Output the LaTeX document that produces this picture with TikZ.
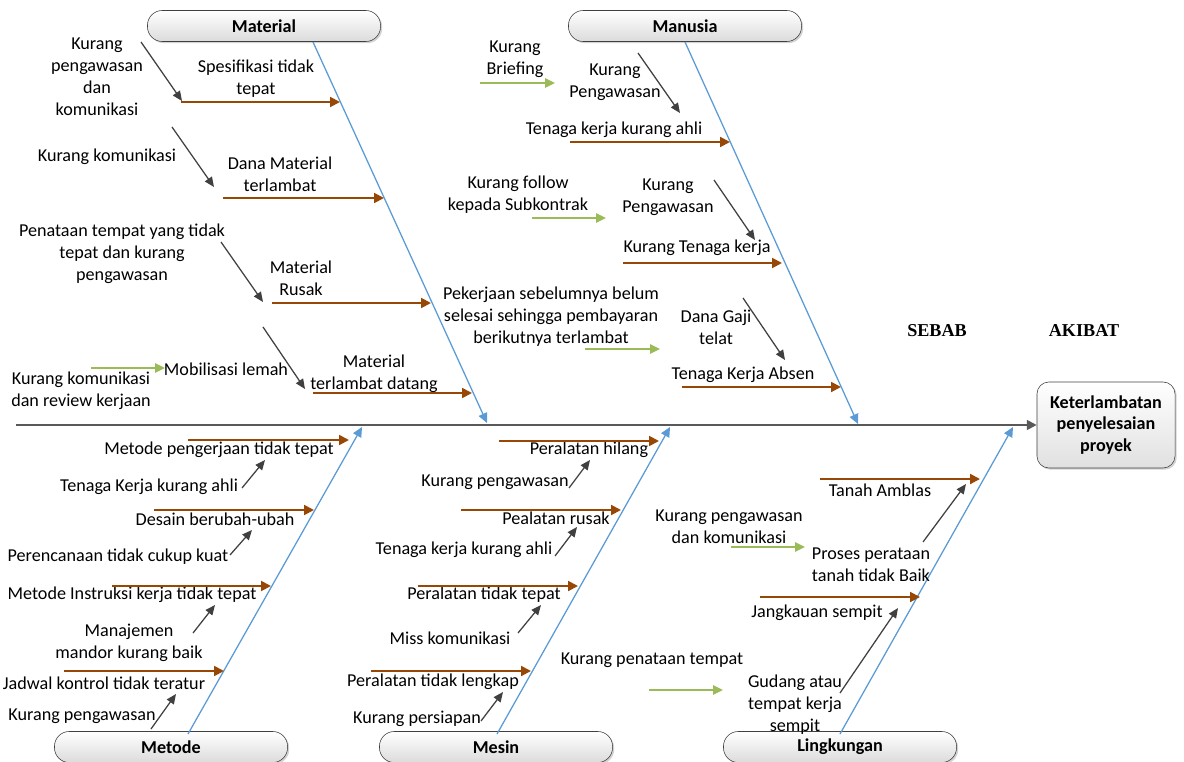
\documentclass[tikz,border=0pt]{standalone}
\usepackage{fontspec}
\setmainfont{Carlito}
\newfontfamily\headfont{Liberation Serif}
\usetikzlibrary{positioning, arrows.meta, shadows}
\definecolor{bonecol}{RGB}{91,155,213}
\definecolor{causecol}{RGB}{151,71,6}
\definecolor{subcol}{RGB}{155,187,89}
\definecolor{linkcol}{RGB}{64,64,64}
\definecolor{spinecol}{RGB}{89,89,89}

\begin{document}
\begin{tikzpicture}[
	x=0.025cm, y=-0.025cm,
	lbl/.style={align=center, inner sep=0pt, font=\fontsize{12.9}{15.6}\selectfont},
	catbox/.style={rectangle, draw=black!75, rounded corners=10.5pt, top color=white, bottom color=black!14, drop shadow={opacity=0.35, shadow xshift=1.2pt, shadow yshift=-1.2pt}, minimum width=5.825cm, minimum height=0.775cm, inner sep=0pt, font=\bfseries\fontsize{12.9}{15.6}\selectfont},
	effectbox/.style={rectangle, draw=black!75, rounded corners=8.5pt, top color=white, bottom color=black!12, drop shadow={opacity=0.35, shadow xshift=1.2pt, shadow yshift=-1.2pt}, minimum width=3.45cm, minimum height=2.15cm, align=center, font=\bfseries\fontsize{12.9}{15.6}\selectfont},
	sidelabel/.style={inner sep=0pt, font=\headfont\bfseries\fontsize{12.9}{15}\selectfont},
	spine/.style={draw=spinecol, line width=1.4pt, -{Triangle[length=7pt,width=7pt]}},
	bone/.style={draw=bonecol, line width=0.9pt, -{Triangle[length=7pt,width=6.5pt]}},
	cause/.style={draw=causecol, line width=1.4pt, -{Triangle[length=7pt,width=7pt]}},
	subcause/.style={draw=subcol, line width=1.2pt, -{Triangle[length=7pt,width=6.5pt]}},
	link/.style={draw=linkcol, line width=0.9pt, -{Triangle[length=7pt,width=6pt]}}
	]
	
	\useasboundingbox (0,0) rectangle (1184,762);
	
	% head and spine
	\node [effectbox] (effect) at (1106,425) {Keterlambatan\\penyelesaian\\proyek};
	\coordinate (tail) at (16,425);
	\draw [spine] (tail) -- (effect.west);
	\node [sidelabel] (sebab) at (937,331) {SEBAB};
	\node [sidelabel] (akibat) at (1084,331) {AKIBAT};
	
	% categories
	\node [catbox] (material) at (264,26) {Material};
	\node [catbox] (manusia) at (685,26) {Manusia};
	\node [catbox] (metode) at (171,747) {Metode};
	\node [catbox] (mesin) at (496,747) {Mesin};
	\node [catbox] (lingkungan) at (840,747) {Lingkungan};
	
	\coordinate (mat_top) at (313,42);   \coordinate (mat_end) at (487,423);
	\coordinate (man_top) at (685,42);   \coordinate (man_end) at (858,424);
	\coordinate (met_bot) at (188,734);  \coordinate (met_end) at (362,427);
	\coordinate (mes_bot) at (497,734);  \coordinate (mes_end) at (670,427);
	\coordinate (lin_bot) at (840,734);  \coordinate (lin_end) at (1013,427);
	\draw [bone] (mat_top) -- (mat_end);
	\draw [bone] (man_top) -- (man_end);
	\draw [bone] (met_bot) -- (met_end);
	\draw [bone] (mes_bot) -- (mes_end);
	\draw [bone] (lin_bot) -- (lin_end);
	
	% Material
	\node [lbl] (mat_a) at (256,79) {Spesifikasi tidak\\tepat};
	\node [lbl] (mat_a1) at (97,77) {Kurang\\pengawasan\\dan\\komunikasi};
	\node [lbl] (mat_b) at (280,174) {Dana Material\\terlambat};
	\node [lbl] (mat_b1) at (107,157) {Kurang komunikasi};
	\node [lbl] (mat_c) at (301,278) {Material\\Rusak};
	\node [lbl] (mat_c1) at (122,254) {Penataan tempat yang tidak\\tepat dan kurang\\pengawasan};
	\node [lbl] (mat_d) at (374,374) {Material\\terlambat datang};
	\node [lbl] (mat_d1) at (226,369) {Mobilisasi lemah};
	\node [lbl] (mat_d2) at (81,391) {Kurang komunikasi\\dan review kerjaan};
	
	\coordinate (ma1) at (181,102); \coordinate (ma2) at (340,102);
	\coordinate (ma3) at (141,42);  \coordinate (ma4) at (182,101);
	\coordinate (mb1) at (223,198); \coordinate (mb2) at (384,198);
	\coordinate (mb3) at (172,127); \coordinate (mb4) at (214,187);
	\coordinate (mc1) at (272,303); \coordinate (mc2) at (431,303);
	\coordinate (mc3) at (221,242); \coordinate (mc4) at (263,302);
	\coordinate (md1) at (313,393); \coordinate (md2) at (472,393);
	\coordinate (md3) at (263,327); \coordinate (md4) at (305,389);
	\coordinate (md5) at (91,368);  \coordinate (md6) at (165,368);
	\draw [cause] (ma1) -- (ma2);
	\draw [link] (ma3) -- (ma4);
	\draw [cause] (mb1) -- (mb2);
	\draw [link] (mb3) -- (mb4);
	\draw [cause] (mc1) -- (mc2);
	\draw [link] (mc3) -- (mc4);
	\draw [cause] (md1) -- (md2);
	\draw [link] (md3) -- (md4);
	\draw [subcause] (md5) -- (md6);
	
	% Manusia
	\node [lbl] (man_a2) at (515,59) {Kurang\\Briefing};
	\node [lbl] (man_a1) at (615,82) {Kurang\\Pengawasan};
	\node [lbl] (man_a) at (614,130) {Tenaga kerja kurang ahli};
	\node [lbl] (man_b2) at (518,195) {Kurang follow\\kepada Subkontrak};
	\node [lbl] (man_b1) at (668,197) {Kurang\\Pengawasan};
	\node [lbl] (man_b) at (697,248) {Kurang Tenaga kerja};
	\node [lbl] (man_c2) at (551,317) {Pekerjaan sebelumnya belum\\selesai sehingga pembayaran\\berikutnya terlambat};
	\node [lbl] (man_c1) at (716,327) {Dana Gaji\\telat};
	\node [lbl] (man_c) at (743,375) {Tenaga Kerja Absen};
	
	\coordinate (na1) at (570,142); \coordinate (na2) at (730,142);
	\coordinate (na3) at (638,53);  \coordinate (na4) at (680,113);
	\coordinate (na5) at (480,83);  \coordinate (na6) at (555,83);
	\coordinate (nb1) at (623,263); \coordinate (nb2) at (782,263);
	\coordinate (nb3) at (714,180); \coordinate (nb4) at (755,240);
	\coordinate (nb5) at (532,218); \coordinate (nb6) at (606,218);
	\coordinate (nc1) at (682,387); \coordinate (nc2) at (841,387);
	\coordinate (nc3) at (743,298); \coordinate (nc4) at (785,360);
	\coordinate (nc5) at (585,349); \coordinate (nc6) at (660,349);
	\draw [cause] (na1) -- (na2);
	\draw [link] (na3) -- (na4);
	\draw [subcause] (na5) -- (na6);
	\draw [cause] (nb1) -- (nb2);
	\draw [link] (nb3) -- (nb4);
	\draw [subcause] (nb5) -- (nb6);
	\draw [cause] (nc1) -- (nc2);
	\draw [link] (nc3) -- (nc4);
	\draw [subcause] (nc5) -- (nc6);
	
	% Metode
	\node [lbl] (met_a) at (219,450) {Metode pengerjaan tidak tepat};
	\node [lbl] (met_a1) at (149,487) {Tenaga Kerja kurang ahli};
	\node [lbl] (met_b) at (215,519) {Desain berubah-ubah};
	\node [lbl] (met_b1) at (118,557) {Perencanaan tidak cukup kuat};
	\node [lbl] (met_c) at (132,595) {Metode Instruksi kerja tidak tepat};
	\node [lbl] (met_c1) at (129,643) {Manajemen\\mandor kurang baik};
	\node [lbl] (met_d) at (104,683) {Jadwal kontrol tidak teratur};
	\node [lbl] (met_d1) at (82,716) {Kurang pengawasan};
	
	\coordinate (ta1) at (188,440); \coordinate (ta2) at (349,440);
	\coordinate (ta3) at (242,488); \coordinate (ta4) at (265,460);
	\coordinate (tb1) at (154,510); \coordinate (tb2) at (314,510);
	\coordinate (tb3) at (230,555); \coordinate (tb4) at (252,530);
	\coordinate (tc1) at (112,586); \coordinate (tc2) at (271,586);
	\coordinate (tc3) at (193,633); \coordinate (tc4) at (215,605);
	\coordinate (td1) at (64,671);  \coordinate (td2) at (224,671);
	\coordinate (td3) at (151,729); \coordinate (td4) at (176,694);
	\draw [cause] (ta1) -- (ta2);
	\draw [link] (ta3) -- (ta4);
	\draw [cause] (tb1) -- (tb2);
	\draw [link] (tb3) -- (tb4);
	\draw [cause] (tc1) -- (tc2);
	\draw [link] (tc3) -- (tc4);
	\draw [cause] (td1) -- (td2);
	\draw [link] (td3) -- (td4);
	
	% Mesin
	\node [lbl] (mes_a) at (589,450) {Peralatan hilang};
	\node [lbl] (mes_a1) at (495,482) {Kurang pengawasan};
	\node [lbl] (mes_b) at (556,518) {Pealatan rusak};
	\node [lbl] (mes_b1) at (464,550) {Tenaga kerja kurang ahli};
	\node [lbl] (mes_c) at (484,595) {Peralatan tidak tepat};
	\node [lbl] (mes_c1) at (450,638) {Miss komunikasi};
	\node [lbl] (mes_d) at (433,682) {Peralatan tidak lengkap};
	\node [lbl] (mes_d1) at (417,719) {Kurang persiapan};
	
	\coordinate (sa1) at (499,441); \coordinate (sa2) at (659,441);
	\coordinate (sa3) at (569,488); \coordinate (sa4) at (590,460);
	\coordinate (sb1) at (461,510); \coordinate (sb2) at (621,510);
	\coordinate (sb3) at (555,556); \coordinate (sb4) at (577,527);
	\coordinate (sc1) at (418,586); \coordinate (sc2) at (578,586);
	\coordinate (sc3) at (518,633); \coordinate (sc4) at (541,605);
	\coordinate (sd1) at (371,671); \coordinate (sd2) at (531,671);
	\coordinate (sd3) at (481,721); \coordinate (sd4) at (503,692);
	\draw [cause] (sa1) -- (sa2);
	\draw [link] (sa3) -- (sa4);
	\draw [cause] (sb1) -- (sb2);
	\draw [link] (sb3) -- (sb4);
	\draw [cause] (sc1) -- (sc2);
	\draw [link] (sc3) -- (sc4);
	\draw [cause] (sd1) -- (sd2);
	\draw [link] (sd3) -- (sd4);
	
	% Lingkungan
	\node [lbl] (lin_a) at (880,490) {Tanah Amblas};
	\node [lbl] (lin_a1) at (871,565) {Proses perataan\\tanah tidak Baik};
	\node [lbl] (lin_a2) at (729,527) {Kurang pengawasan\\dan komunikasi};
	\node [lbl] (lin_b) at (817,613) {Jangkauan sempit};
	\node [lbl] (lin_b1) at (795,705) {Gudang atau\\tempat kerja\\sempit};
	\node [lbl] (lin_b2) at (652,660) {Kurang penataan tempat};
	
	\coordinate (la1) at (820,479); \coordinate (la2) at (980,479);
	\coordinate (la3) at (923,542); \coordinate (la4) at (966,484);
	\coordinate (la5) at (731,547); \coordinate (la6) at (805,547);
	\coordinate (lb1) at (760,597); \coordinate (lb2) at (920,597);
	\coordinate (lb3) at (840,693); \coordinate (lb4) at (898,608);
	\coordinate (lb5) at (649,690); \coordinate (lb6) at (723,690);
	\draw [cause] (la1) -- (la2);
	\draw [link] (la3) -- (la4);
	\draw [subcause] (la5) -- (la6);
	\draw [cause] (lb1) -- (lb2);
	\draw [link] (lb3) -- (lb4);
	\draw [subcause] (lb5) -- (lb6);
\end{tikzpicture}
\end{document}
